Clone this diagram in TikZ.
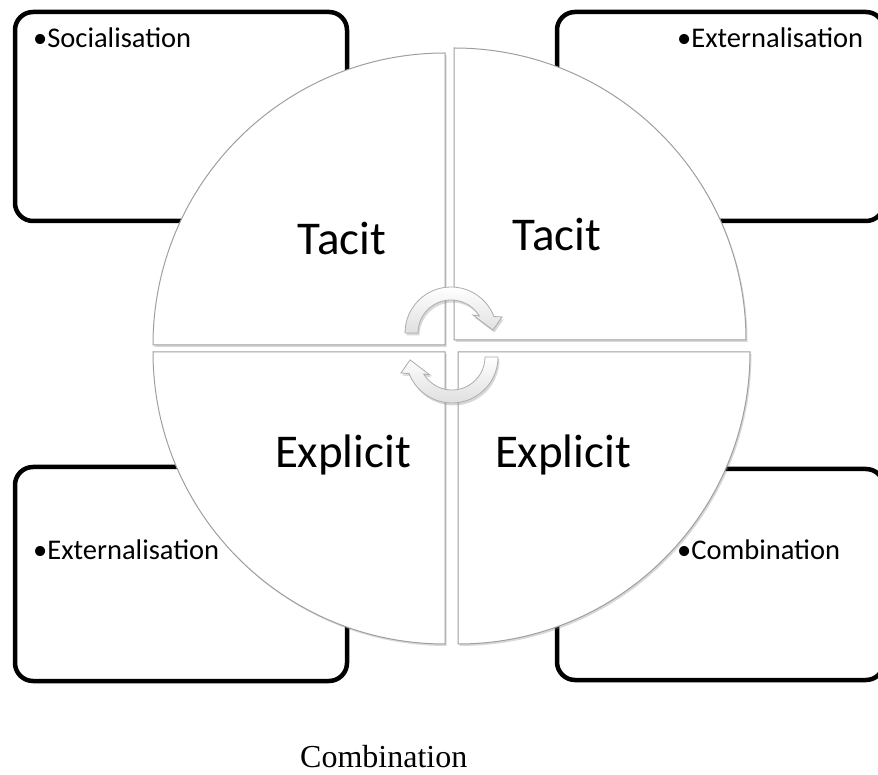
\documentclass[tikz,border=0pt]{standalone}
\usepackage{fontspec}
\setmainfont{Carlito}
\newfontfamily\capfont{Liberation Serif}
\usetikzlibrary{shadows}

\begin{document}
\begin{tikzpicture}[x=1pt,y=1pt,
  box/.style={draw=black, line width=4.5pt, rounded corners=18pt, fill=white},
  quad/.style={draw=gray!75, line width=1pt, fill=white,
    drop shadow={shadow xshift=1.5pt, shadow yshift=-2pt, opacity=0.3}},
  bigtxt/.style={font=\fontsize{47}{56}\selectfont, inner sep=0pt, anchor=base},
  item/.style={font=\fontsize{28.5}{34}\selectfont, inner sep=0pt, anchor=base west},
  cyc/.style={draw=gray!65, line width=0.8pt, top color=white, bottom color=gray!25,
    drop shadow={shadow xshift=1.5pt, shadow yshift=-2.5pt, opacity=0.3}}
]
\useasboundingbox (0,0) rectangle (878,774);
\clip (0,0) rectangle (878,774);

% corner boxes
\draw[box] (15,762) rectangle (347,553);
\draw[box] (557,762) rectangle (884,553);
\draw[box] (15,307) rectangle (347,93);
\draw[box] (557,305) rectangle (884,94);

% exploded circle: four quarters
\path[quad] (445,429) -- (153,429) arc[start angle=180, end angle=90, radius=292] -- cycle;
\path[quad] (454,434) -- (454,726) arc[start angle=90, end angle=0, radius=292] -- cycle;
\path[quad] (445,422) -- (153,422) arc[start angle=180, end angle=270, radius=292] -- cycle;
\path[quad] (458,422) -- (750,422) arc[start angle=0, end angle=-90, radius=292] -- cycle;

% cycle arrows in the middle
\begin{scope}[shift={(451,441)}]
  \path[cyc] (180:46) arc[start angle=180, end angle=21, radius=46]
    -- (17.4:53.5) -- (4:42) -- (39.3:28.4) -- (31:33)
    arc[start angle=31, end angle=180, radius=33] -- cycle;
\end{scope}
\begin{scope}[shift={(452,417)}]
  \path[cyc] (0:46) arc[start angle=0, end angle=-159, radius=46]
    -- (197.4:53.5) -- (184:42) -- (219.3:28.4) -- (211:33)
    arc[start angle=211, end angle=360, radius=33] -- cycle;
\end{scope}

% quarter labels
\node[bigtxt] (tacitL) at (342,519) {Tacit};
\node[bigtxt] (tacitR) at (557,523) {Tacit};
\node[bigtxt] (explL) at (343,306) {Explicit};
\node[bigtxt] (explR) at (563,306) {Explicit};

% box labels
\node[item] (soc) at (33,726) {•Socialisation};
\node[item] (extTR) at (677,726) {•Externalisation};
\node[item] (extBL) at (33,214) {•Externalisation};
\node[item] (comb) at (677,214) {•Combination};

% caption
\node[anchor=base west, inner sep=0pt, font=\capfont\fontsize{32}{38}\selectfont] (cap) at (300,7) {Combination};
\end{tikzpicture}
\end{document}
